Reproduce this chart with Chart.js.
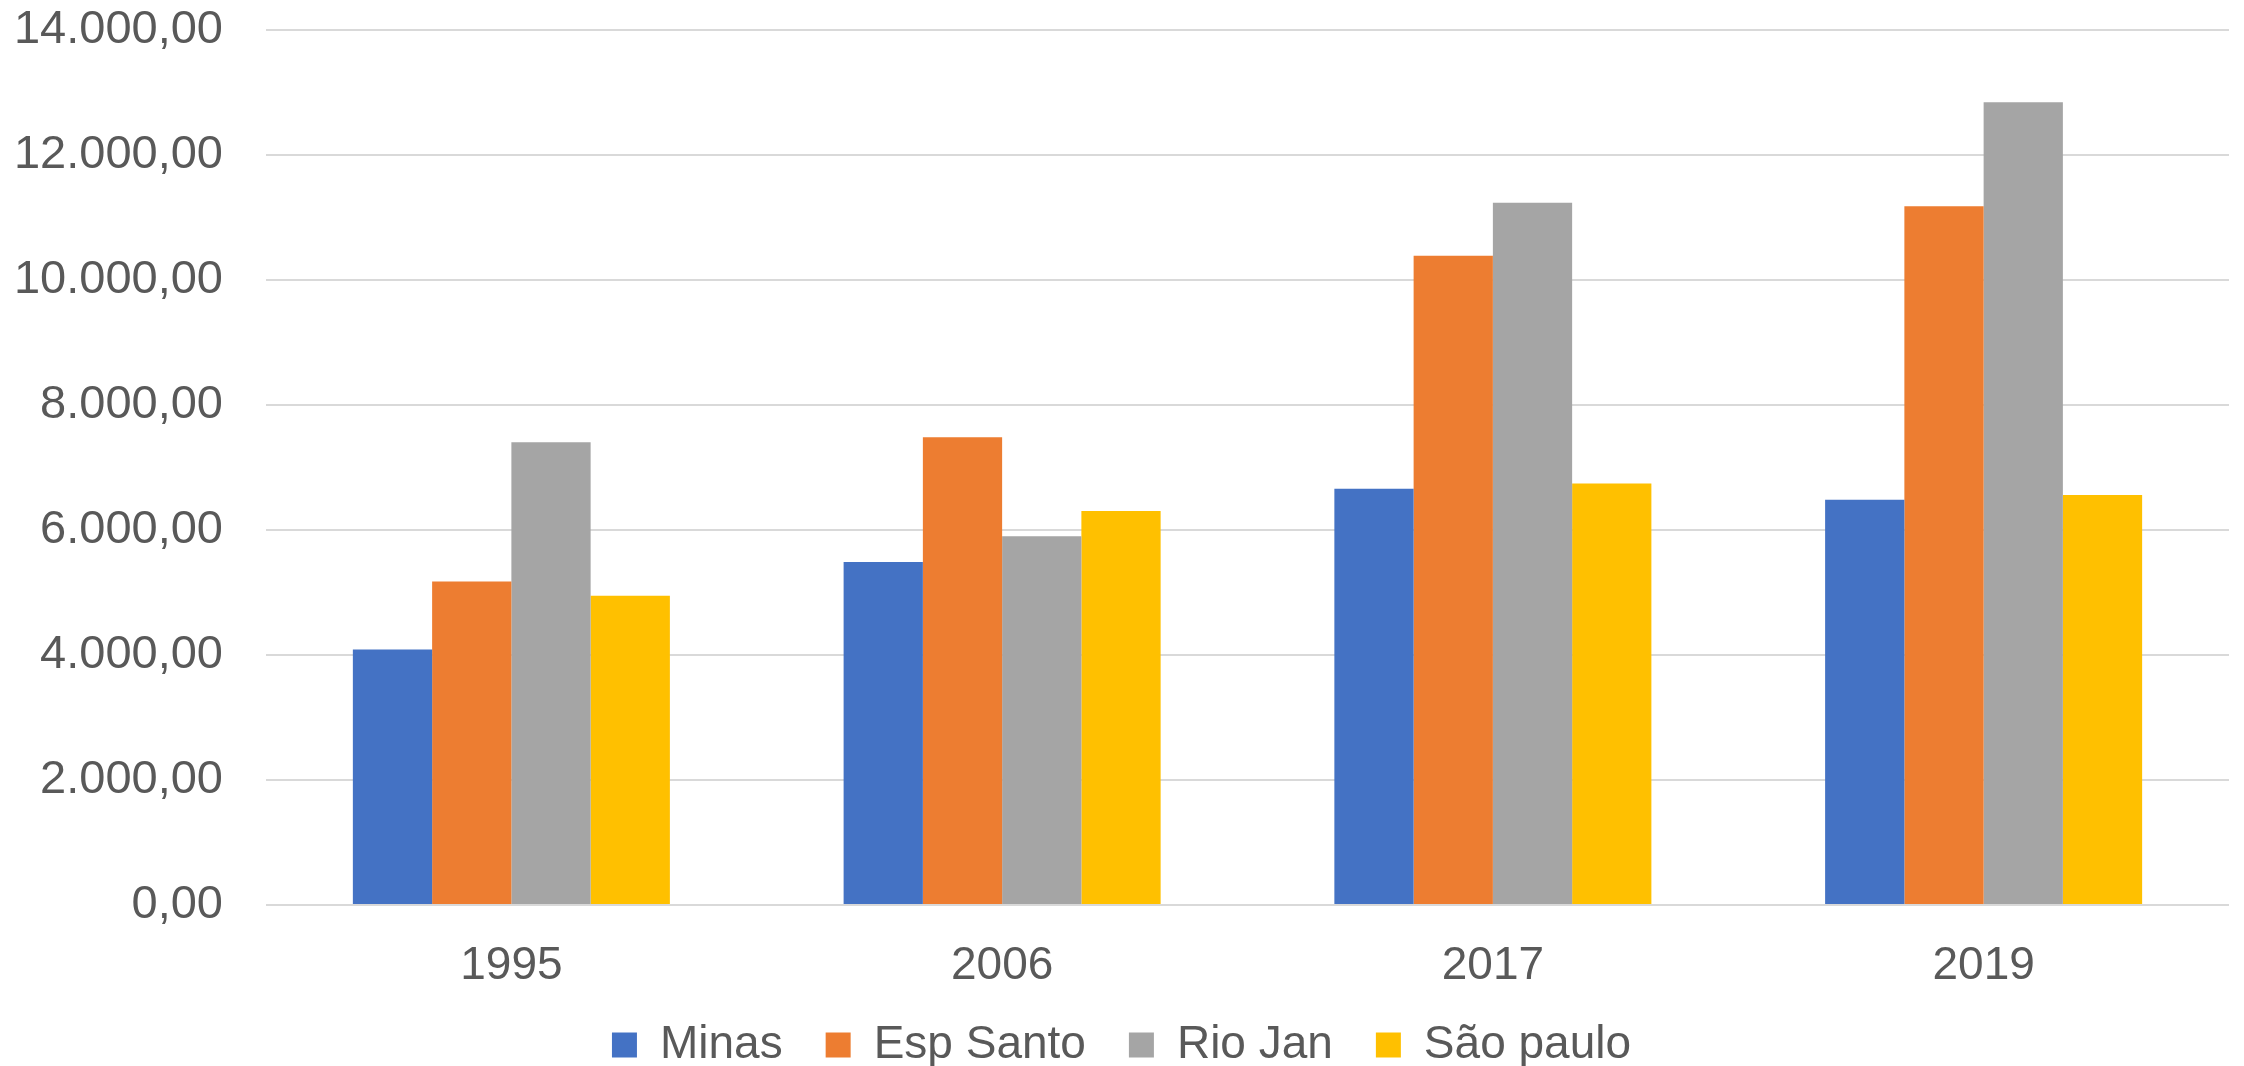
<!DOCTYPE html>
<html>
<head>
<meta charset="utf-8">
<script src="https://cdn.jsdelivr.net/npm/chart.js@4.4.1/dist/chart.umd.min.js"></script>
<style>
    html, body { margin: 0; padding: 0; background: #ffffff; }
    #wrap { width: 2244px; height: 1066px; }
</style>
</head>
<body>
<div id="wrap"><canvas id="chart" width="2244" height="1066"></canvas></div>
<script>
// Yearly values per state
const years = ['1995', '2006', '2017', '2019'];
const minas = [4090, 5490, 6660, 6485];
const espSanto = [5175, 7485, 10390, 11180];
const rioJan = [7405, 5900, 11235, 12845];
const saoPaulo = [4950, 6305, 6745, 6560];

const seriesNames = ['Minas', 'Esp Santo', 'Rio Jan', 'São paulo'];
const seriesColors = ['#4472C4', '#ED7D31', '#A5A5A5', '#FFC000'];

const textColor = '#595959';
const gridColor = '#D9D9D9';

// 14000 -> "14.000,00"
function formatBR(value) {
    const parts = Number(value).toFixed(2).split('.');
    return parts[0].replace(/\B(?=(\d{3})+(?!\d))/g, '.') + ',' + parts[1];
}

Chart.defaults.font.family = '"Liberation Sans", Arial, sans-serif';
Chart.defaults.color = textColor;

const datasets = [minas, espSanto, rioJan, saoPaulo].map((values, idx) => ({
    label: seriesNames[idx],
    data: values,
    backgroundColor: seriesColors[idx],
    borderWidth: 0,
    categoryPercentage: 0.646,
    barPercentage: 1.0
}));

const ctx = document.getElementById('chart').getContext('2d');
new Chart(ctx, {
    type: 'bar',
    data: {
        labels: years,
        datasets: datasets
    },
    options: {
        responsive: false,
        animation: false,
        layout: {
            padding: { left: 14, right: 15, top: 30, bottom: -12 }
        },
        plugins: {
            tooltip: { enabled: false },
            title: { display: false },
            legend: {
                display: true,
                position: 'bottom',
                labels: {
                    boxWidth: 25,
                    boxHeight: 25,
                    padding: 43,
                    color: textColor,
                    font: { size: 46 }
                }
            }
        },
        scales: {
            x: {
                grid: { display: false, drawTicks: false },
                border: { display: false },
                ticks: {
                    padding: 48,
                    color: textColor,
                    font: { size: 46, lineHeight: '26px' }
                },
                afterFit: function(scale) {
                    // keep the label band a fixed height
                    scale.height = 74;
                    scale.paddingLeft = 0;
                    scale.paddingRight = 0;
                }
            },
            y: {
                min: 0,
                max: 14000,
                grid: {
                    color: gridColor,
                    lineWidth: 2,
                    drawTicks: false
                },
                border: { display: false },
                ticks: {
                    stepSize: 2000,
                    padding: 43,
                    color: textColor,
                    font: { size: 47 },
                    callback: function(value) {
                        return formatBR(value);
                    }
                },
                afterFit: function(scale) {
                    scale.width = 252;
                    scale.paddingTop = 0;
                    scale.paddingBottom = 0;
                }
            }
        }
    }
});
</script>
</body>
</html>
